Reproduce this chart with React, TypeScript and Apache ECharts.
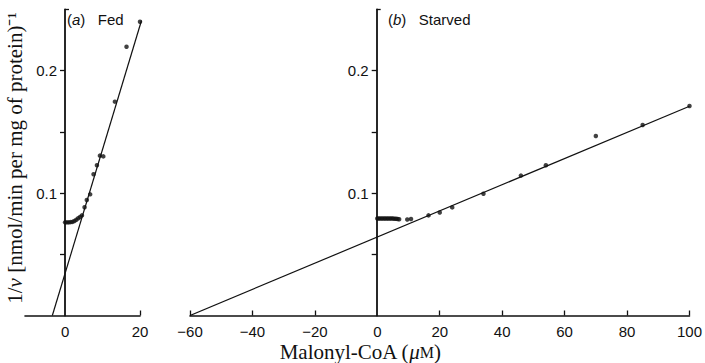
import React, { useEffect, useRef } from "react";
import * as echarts from "echarts";

// Panel (a) Fed: malonyl-CoA (µM) vs 1/v
const fedX = [0, 0.5, 1, 1.5, 2, 2.5, 3, 3.5, 4, 4.5, 5.2, 5.8, 6.7, 7.6, 8.5, 9.3, 10.2, 13.3, 16.4, 20];
const fedY = [0.0761, 0.0761, 0.0761, 0.0763, 0.0765, 0.0772, 0.0782, 0.0795, 0.0805, 0.0818, 0.0884, 0.0944, 0.099, 0.1154, 0.1227, 0.1306, 0.130, 0.1747, 0.2196, 0.240];
const fedLineX = [-3.4, 20.4];
const fedLineY = [0, 0.241];

// Panel (b) Starved
const stX = [0, 0.5, 1, 1.5, 2, 2.5, 3, 3.5, 4, 4.5, 5, 5.5, 6, 6.5, 7, 9.6, 10.8, 16.4, 20, 24, 34, 46, 54, 70, 85, 100];
const stY = [0.0792, 0.0792, 0.0792, 0.0792, 0.0793, 0.0793, 0.0793, 0.0793, 0.0793, 0.0792, 0.0792, 0.0791, 0.079, 0.0788, 0.0786, 0.0784, 0.0788, 0.0818, 0.0842, 0.0883, 0.0995, 0.1143, 0.1227, 0.1466, 0.1556, 0.1711];
const stLineX = [-60, 100];
const stLineY = [0, 0.171];

const fedTickLabels = [0, 20];
const starvedTicks = [-60, -40, -20, 0, 20, 40, 60, 80, 100];
const yTickValues = [0.05, 0.1, 0.15, 0.2];
const yLabelValues = [0.1, 0.2];

const pairs = (xs: number[], ys: number[]) => xs.map((x, i) => [x, ys[i]]);

const SANS = "Liberation Sans";
const SERIF = "Liberation Serif";
const INK = "#111";

export default function App() {
  const ref = useRef<HTMLDivElement>(null);
  useEffect(() => {
    if (!ref.current) return;
    const chart = echarts.init(ref.current, null, { renderer: "svg" });
    const fmt = (v: number) => String(v).replace("-", "\u2212");
    // y axes sit at x = 0 of each panel: offset inward from grid's left edge
    const yAxisBase = (gridIndex: number, offset: number) => ({
      type: "value",
      gridIndex,
      position: "left",
      offset,
      min: 0,
      max: 0.25,
      interval: 0.05,
      splitLine: { show: false },
      axisLine: { show: true, onZero: false, lineStyle: { color: INK, width: 1.8 } },
      axisTick: { show: true, inside: false, length: 5, customValues: yTickValues, lineStyle: { color: INK, width: 1.3 } },
      axisLabel: {
        customValues: yLabelValues,
        margin: 8,
        color: INK,
        fontFamily: SANS,
        fontSize: 15,
        formatter: (v: number) => String(v),
      },
    });
    const hookAxis = (gridIndex: number, offset: number) => ({
      type: "value",
      gridIndex,
      position: "left",
      offset,
      min: 0,
      max: 0.25,
      interval: 0.05,
      splitLine: { show: false },
      axisLine: { show: false, onZero: false },
      axisTick: { show: true, inside: true, length: 4, customValues: [0.25], lineStyle: { color: INK, width: 1.3 } },
      axisLabel: { show: false },
    });
    const option: any = {
      animation: false,
      backgroundColor: "#fff",
      grid: [
        { left: 25, top: 9.5, width: 115, height: 306 },
        { left: 190, top: 9.5, width: 499.5, height: 306 },
      ],
      xAxis: [
        {
          type: "value",
          gridIndex: 0,
          min: -10.7,
          max: 20,
          splitLine: { show: false },
          axisLine: { show: true, onZero: false, lineStyle: { color: INK, width: 1.6 } },
          axisTick: { show: true, inside: true, length: 5, customValues: [20], lineStyle: { color: INK, width: 1.3 } },
          axisLabel: { customValues: fedTickLabels, margin: 8, color: INK, fontFamily: SANS, fontSize: 15, formatter: fmt },
        },
        {
          type: "value",
          gridIndex: 1,
          min: -60,
          max: 100,
          interval: 20,
          splitLine: { show: false },
          axisLine: { show: true, onZero: false, lineStyle: { color: INK, width: 1.6 } },
          axisTick: { show: true, inside: true, length: 5, customValues: starvedTicks.filter((v) => v !== 0), lineStyle: { color: INK, width: 1.3 } },
          axisLabel: { customValues: starvedTicks, margin: 8, color: INK, fontFamily: SANS, fontSize: 15, formatter: fmt },
        },
      ],
      yAxis: [yAxisBase(0, -40), yAxisBase(1, -186.7), hookAxis(0, -40), hookAxis(1, -186.7)],
      series: [
        {
          type: "line",
          xAxisIndex: 0,
          yAxisIndex: 0,
          data: pairs(fedLineX, fedLineY),
          showSymbol: false,
          lineStyle: { color: INK, width: 1.2 },
        },
        {
          type: "scatter",
          xAxisIndex: 0,
          yAxisIndex: 0,
          data: pairs(fedX, fedY),
          symbolSize: 4.5,
          itemStyle: { color: INK },
        },
        {
          type: "line",
          xAxisIndex: 1,
          yAxisIndex: 1,
          data: pairs(stLineX, stLineY),
          showSymbol: false,
          lineStyle: { color: INK, width: 1.2 },
        },
        {
          type: "scatter",
          xAxisIndex: 1,
          yAxisIndex: 1,
          data: pairs(stX, stY),
          symbolSize: 4.5,
          itemStyle: { color: INK },
        },
      ],
      graphic: [
        {
          type: "text",
          left: 67,
          top: 12,
          style: {
            text: "({i|a})   Fed",
            fontFamily: SANS,
            fontSize: 15,
            fill: INK,
            rich: { i: { fontStyle: "italic", fontFamily: SANS, fontSize: 15, fill: INK } },
          },
        },
        {
          type: "text",
          left: 388,
          top: 12,
          style: {
            text: "({i|b})   Starved",
            fontFamily: SANS,
            fontSize: 15,
            fill: INK,
            rich: { i: { fontStyle: "italic", fontFamily: SANS, fontSize: 15, fill: INK } },
          },
        },
        {
          type: "text",
          x: 360,
          y: 352,
          style: {
            text: "Malonyl-CoA ({i|\u03bc}{s|M})",
            fontFamily: SERIF,
            fontSize: 21,
            fill: INK,
            align: "center",
            verticalAlign: "middle",
            rich: {
              i: { fontStyle: "italic", fontFamily: SERIF, fontSize: 21, fill: INK },
              s: { fontFamily: SERIF, fontSize: 16, fill: INK },
            },
          },
        },
        {
          type: "text",
          x: 15,
          y: 158,
          rotation: Math.PI / 2,
          style: {
            text: "1/{i|v} [nmol/min per mg of protein)\u207b\u00b9",
            fontFamily: SERIF,
            fontSize: 21,
            fill: INK,
            align: "center",
            verticalAlign: "middle",
            rich: { i: { fontStyle: "italic", fontFamily: SERIF, fontSize: 21, fill: INK } },
          },
        },
      ],
    };
    chart.setOption(option);
    return () => chart.dispose();
  }, []);
  return (
    <div
      ref={ref}
      style={{ position: "fixed", left: 0, top: 0, width: 705, height: 363, background: "#fff" }}
    />
  );
}
